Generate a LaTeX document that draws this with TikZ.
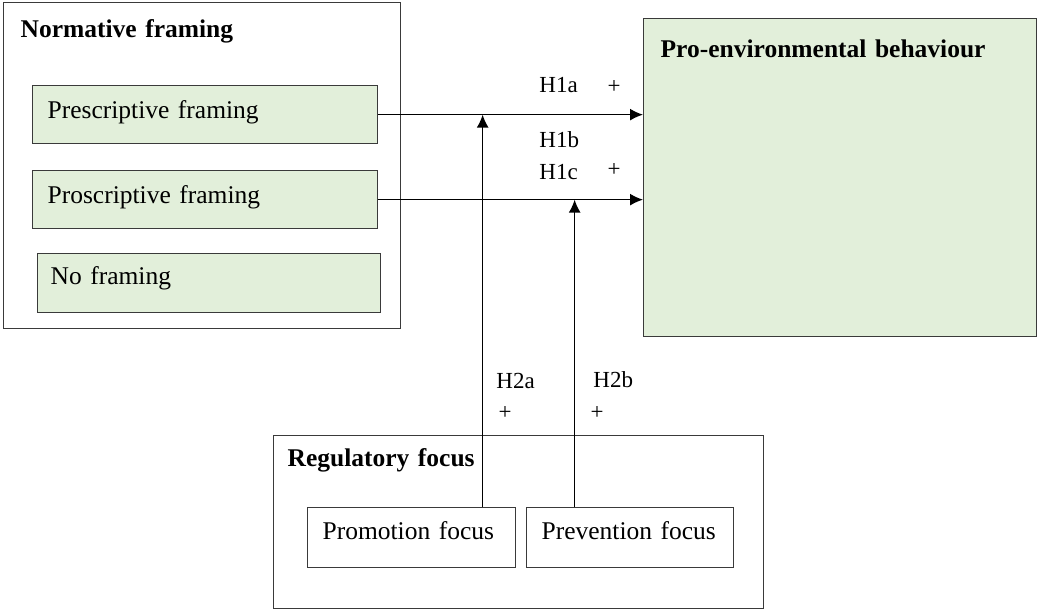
\documentclass[tikz,border=0pt]{standalone}
\usepackage{fontspec}
\setmainfont{Liberation Serif}
\usetikzlibrary{arrows.meta}

\definecolor{boxgreen}{HTML}{E2EFDA}
\definecolor{boxline}{HTML}{3A3A3A}

\tikzset{
    groupbox/.style={draw=boxline, line width=0.65pt, anchor=north west, inner ysep=0pt, align=left, font=\fontsize{12.75}{15}\selectfont\bfseries},
    itembox/.style={draw=boxline, line width=0.65pt, anchor=north west, inner ysep=0pt, align=left, font=\fontsize{12.75}{15}\selectfont},
    hyp/.style={anchor=base west, inner sep=0pt, font=\fontsize{11.5}{14}\selectfont},
    sign/.style={inner sep=0pt, font=\fontsize{11.5}{14}\selectfont},
    link/.style={line width=0.7pt, -{Latex[length=6.5pt, width=6pt]}}
}

\begin{document}
\begin{tikzpicture}[x=0.5pt, y=-0.5pt]
        \useasboundingbox (0,0) rectangle (1041,610);

        % Normative framing
        \node[groupbox, inner xsep=8.5pt, text width=181.5pt, text height=17.5pt, text depth=145.5pt] (norm) at (3,2) {Normative framing};
        \node[itembox, fill=boxgreen, inner xsep=7.5pt, text width=157.5pt, text height=16.5pt, text depth=12.5pt] (presc) at (32,85) {Prescriptive framing};
        \node[itembox, fill=boxgreen, inner xsep=7.5pt, text width=157.5pt, text height=16.5pt, text depth=12.5pt] (prosc) at (32,170) {Proscriptive framing};
        \node[itembox, fill=boxgreen, inner xsep=6.5pt, text width=158.5pt, text height=15.5pt, text depth=14pt] (nofr) at (37,253) {No framing};

        % Pro-environmental behaviour
        \node[groupbox, fill=boxgreen, inner xsep=8.5pt, text width=179.5pt, text height=19.5pt, text depth=139.5pt] (proenv) at (643,18) {Pro-environmental behaviour};

        % Regulatory focus
        \node[groupbox, inner xsep=7pt, text width=231pt, text height=15.5pt, text depth=71pt] (reg) at (273,435) {Regulatory focus};
        \node[itembox, inner xsep=7.5pt, text width=89pt, text height=16pt, text depth=14pt] (promo) at (307,507) {Promotion focus};
        \node[itembox, inner xsep=7.5pt, text width=88.5pt, text height=16pt, text depth=14pt] (prev) at (526,507) {Prevention focus};

        % main effects
        \draw[link] (presc.east) -- (presc.east -| proenv.west);
        \draw[link] (prosc.east) -- (prosc.east -| proenv.west);

        % moderation
        \coordinate (m1) at ([xshift=35.5pt]promo.north);
        \coordinate (m2) at ([xshift=-27.75pt]prev.north);
        \draw[link] (m1) -- (m1 |- presc.east);
        \draw[link] (m2) -- (m2 |- prosc.east);

        % hypotheses
        \node[hyp] (h1a) at (539,93) {H1a};
        \node[sign] (p1a) at (614,87) {+};
        \node[hyp] (h1b) at (539,148) {H1b};
        \node[hyp] (h1c) at (539,180) {H1c};
        \node[sign] (p1c) at (614,170) {+};
        \node[hyp] (h2a) at (496,388) {H2a};
        \node[sign] (p2a) at (505,413) {+};
        \node[hyp] (h2b) at (593,387) {H2b};
        \node[sign] (p2b) at (597,413) {+};

    \end{tikzpicture}
\end{document}
